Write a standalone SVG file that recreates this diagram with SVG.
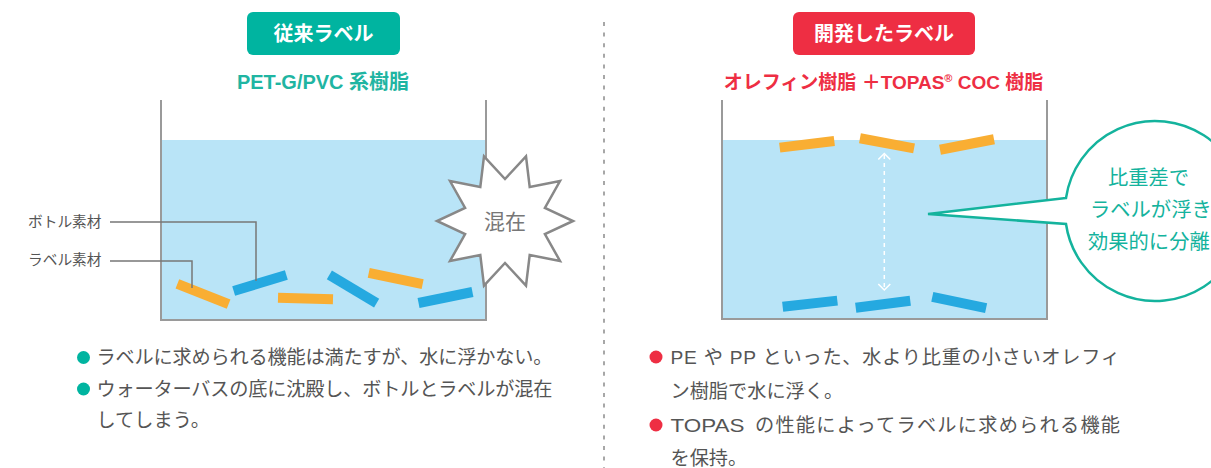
<svg xmlns="http://www.w3.org/2000/svg" width="1211" height="468" viewBox="0 0 1211 468">
<defs>
<style>
text{font-family:"Liberation Sans","Noto Sans CJK JP",sans-serif}
.badge-t{font-size:20px;font-weight:bold;fill:#fff;text-anchor:middle}
.sub{font-size:20px;font-weight:bold;text-anchor:middle}
.wall{fill:none;stroke:#9a9a9a;stroke-width:2}
.water{fill:#b9e4f7}
.org{fill:#f9ae33}
.blu{fill:#25a9e0}
.lbl{font-size:14.7px;fill:#555}
.lead{fill:none;stroke:#777;stroke-width:1.5}
.body{font-size:19.2px;fill:#555}
.bt{font-size:20.3px;fill:#14b39d}
</style>
</defs>
<rect width="1211" height="468" fill="#fff"/>

<g id="divider">
<line x1="604" y1="22" x2="604" y2="468" stroke="#8a8a8a" stroke-width="1.5" stroke-dasharray="4 6.6"/>
</g>

<!-- LEFT PANEL -->
<g id="badge-left">
<rect x="247" y="12" width="153" height="43" rx="6" fill="#00b4a0"/>
<text class="badge-t" x="323.5" y="40.5">従来ラベル</text>
</g>
<text id="sub-left" class="sub" x="323" y="88.5" fill="#1fb5a2">PET-G/PVC 系樹脂</text>

<g id="container-left">
<rect class="water" x="161" y="140" width="325" height="180"/>
<path class="wall" d="M161,100 V320 H486 V100"/>
</g>

<g id="labels-left">
<rect class="org" x="-27.5" y="-5" width="55" height="10" transform="translate(203,294) rotate(21.4)"/>
<rect class="blu" x="-27.5" y="-5" width="55" height="10" transform="translate(260,283) rotate(-16.8)"/>
<rect class="org" x="-27.5" y="-5" width="55" height="10" transform="translate(305.5,298.5) rotate(1.5)"/>
<rect class="blu" x="-27.5" y="-5" width="55" height="10" transform="translate(353,289) rotate(30.8)"/>
<rect class="org" x="-27.5" y="-5" width="55" height="10" transform="translate(395.7,278.5) rotate(11.6)"/>
<rect class="blu" x="-27.5" y="-5" width="55" height="10" transform="translate(445.5,297.5) rotate(-11.5)"/>
</g>

<g id="connectors">
<path class="lead" d="M110,222 H256 V281"/>
<path class="lead" d="M110,261 H192 V288"/>
</g>

<g id="label-bottle"><text class="lbl" x="28" y="226.5">ボトル素材</text></g>
<g id="label-label"><text class="lbl" x="28" y="265">ラベル素材</text></g>

<g id="burst">
<polygon points="573,221 544.9,234 560,261 529.7,255 526,285.7 505,263 484,285.7 480.3,255 450,261 465.1,234 437,221 465.1,208 450,181 480.3,187 484,156.3 505,179 526,156.3 529.7,187 560,181 544.9,208" fill="#fff" stroke="#888" stroke-width="2.5" stroke-linejoin="miter"/>
<text x="505" y="228.5" font-size="21px" fill="#777" text-anchor="middle">混在</text>
</g>

<g id="bullets-left">
<circle cx="83.5" cy="357.5" r="6.5" fill="#00b4a0"/>
<text class="body" x="96.5" y="364" textLength="456" lengthAdjust="spacing">ラベルに求められる機能は満たすが、水に浮かない。</text>
<circle cx="83.5" cy="389" r="6.5" fill="#00b4a0"/>
<text class="body" x="96.5" y="395.5" textLength="456" lengthAdjust="spacing">ウォーターバスの底に沈殿し、ボトルとラベルが混在</text>
<text class="body" x="96.5" y="427">してしまう。</text>
</g>

<!-- RIGHT PANEL -->
<g id="badge-right">
<rect x="793" y="12" width="182" height="43" rx="6" fill="#ee2e43"/>
<text class="badge-t" x="884" y="40.5">開発したラベル</text>
</g>
<text id="sub-right" class="sub" x="883.5" y="88.5" fill="#ee2e43" style="font-size:19px">オレフィン樹脂 ＋TOPAS<tspan style="font-size:11px" dy="-7">®</tspan><tspan dy="7"> COC 樹脂</tspan></text>

<g id="container-right">
<rect class="water" x="722" y="140" width="325" height="179"/>
<path class="wall" d="M722,100 V319 H1047 V100"/>
</g>

<g id="labels-right">
<rect class="org" x="-27.5" y="-5" width="55" height="10" transform="translate(807,144.3) rotate(-7)"/>
<rect class="org" x="-27.5" y="-5" width="55" height="10" transform="translate(887,143.3) rotate(10.5)"/>
<rect class="org" x="-27.5" y="-5" width="55" height="10" transform="translate(967,144.5) rotate(-11)"/>
<rect class="blu" x="-27.5" y="-5" width="55" height="10" transform="translate(810,303.7) rotate(-6.4)"/>
<rect class="blu" x="-27.5" y="-5" width="55" height="10" transform="translate(883,304.3) rotate(-7.3)"/>
<rect class="blu" x="-27.5" y="-5" width="55" height="10" transform="translate(959.2,302.5) rotate(12)"/>
</g>

<g id="gap-arrow" stroke="#fff" stroke-width="1.5" fill="none">
<line x1="884.3" y1="155" x2="884.3" y2="288" stroke-dasharray="4 4"/>
<polyline points="878.3,159.5 884.3,153.5 890.3,159.5"/>
<polyline points="878.3,284 884.3,290 890.3,284"/>
</g>

<g id="bubble">
<path d="M1066,198 L928,214 L1066,224 A90,90 0 1 0 1066,198 Z" fill="#fff" stroke="#14b39d" stroke-width="2.5" stroke-linejoin="miter"/>
<text class="bt" x="1108" y="185">比重差で</text>
<text class="bt" x="1090" y="217">ラベルが浮き</text>
<text class="bt" x="1088" y="248.5">効果的に分離</text>
</g>

<g id="bullets-right">
<circle cx="656" cy="357" r="6.5" fill="#ee2e43"/>
<text class="body" x="670.5" y="364" textLength="449.5" lengthAdjust="spacing">PE や PP といった、水より比重の小さいオレフィ</text>
<text class="body" x="670.5" y="398">ン樹脂で水に浮く。</text>
<circle cx="656" cy="425" r="6.5" fill="#ee2e43"/>
<text class="body" x="670.5" y="431.5" textLength="74" lengthAdjust="spacingAndGlyphs">TOPAS</text>
<text class="body" x="755" y="431.5" textLength="365" lengthAdjust="spacing">の性能によってラベルに求められる機能</text>
<text class="body" x="670.5" y="465">を保持。</text>
</g>
</svg>
